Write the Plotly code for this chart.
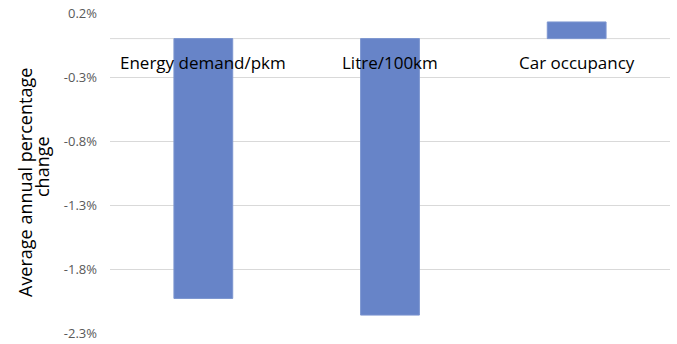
import plotly.graph_objects as go

# Average annual percentage change per indicator
categories = ["Energy demand/pkm", "Litre/100km", "Car occupancy"]
values = [-2.03, -2.16, 0.13]
tick_values = [0.2, -0.3, -0.8, -1.3, -1.8, -2.3]
tick_labels = ["0.2%", "-0.3%", "-0.8%", "-1.3%", "-1.8%", "-2.3%"]
title_lines = ["Average annual percentage", "change"]

bar_color = "#6784c8"
grid_color = "#d9d9d9"
text_color = "#595959"

fig = go.Figure()
fig.add_trace(go.Bar(
    x=categories,
    y=values,
    marker=dict(color=bar_color, line=dict(color="#7c95d0", width=1)),
    showlegend=False,
))

# Category names sit just below the zero line, centred on each bar
for cat in categories:
    fig.add_annotation(
        x=cat, y=-0.19, xref="x", yref="y",
        text=cat, showarrow=False,
        font=dict(family="Open Sans", size=17, color="#000000"),
    )

# Rotated two-line axis title, one annotation per line for tight leading
title_shifts = [(-85, -10), (-68, 6)]
for line, (dx, dy) in zip(title_lines, title_shifts):
    fig.add_annotation(
        x=0, y=0.5, xref="paper", yref="paper",
        xanchor="center", yanchor="middle",
        xshift=dx, yshift=dy,
        text=line, textangle=-90, showarrow=False,
        font=dict(family="Open Sans", size=18, color="#000000"),
    )

# Zero axis line
fig.add_shape(type="line", xref="paper", yref="y", x0=0, x1=1, y0=0, y1=0,
              line=dict(color=grid_color, width=1), layer="below")

fig.update_layout(
    width=677, height=344,
    margin=dict(l=110, r=7, t=13, b=11),
    paper_bgcolor="white", plot_bgcolor="white",
    bargap=0.685,
    xaxis=dict(showticklabels=False, showgrid=False, zeroline=False,
               showline=False, ticks="", automargin=False),
    yaxis=dict(
        range=[-2.3, 0.2],
        tickvals=tick_values, ticktext=tick_labels,
        showgrid=True, gridcolor=grid_color, gridwidth=1,
        zeroline=False, showline=False, ticks="",
        tickfont=dict(family="Open Sans", size=13, color=text_color),
        ticklabelstandoff=12,
        automargin=False,
    ),
)

fig.write_html("out.html")
